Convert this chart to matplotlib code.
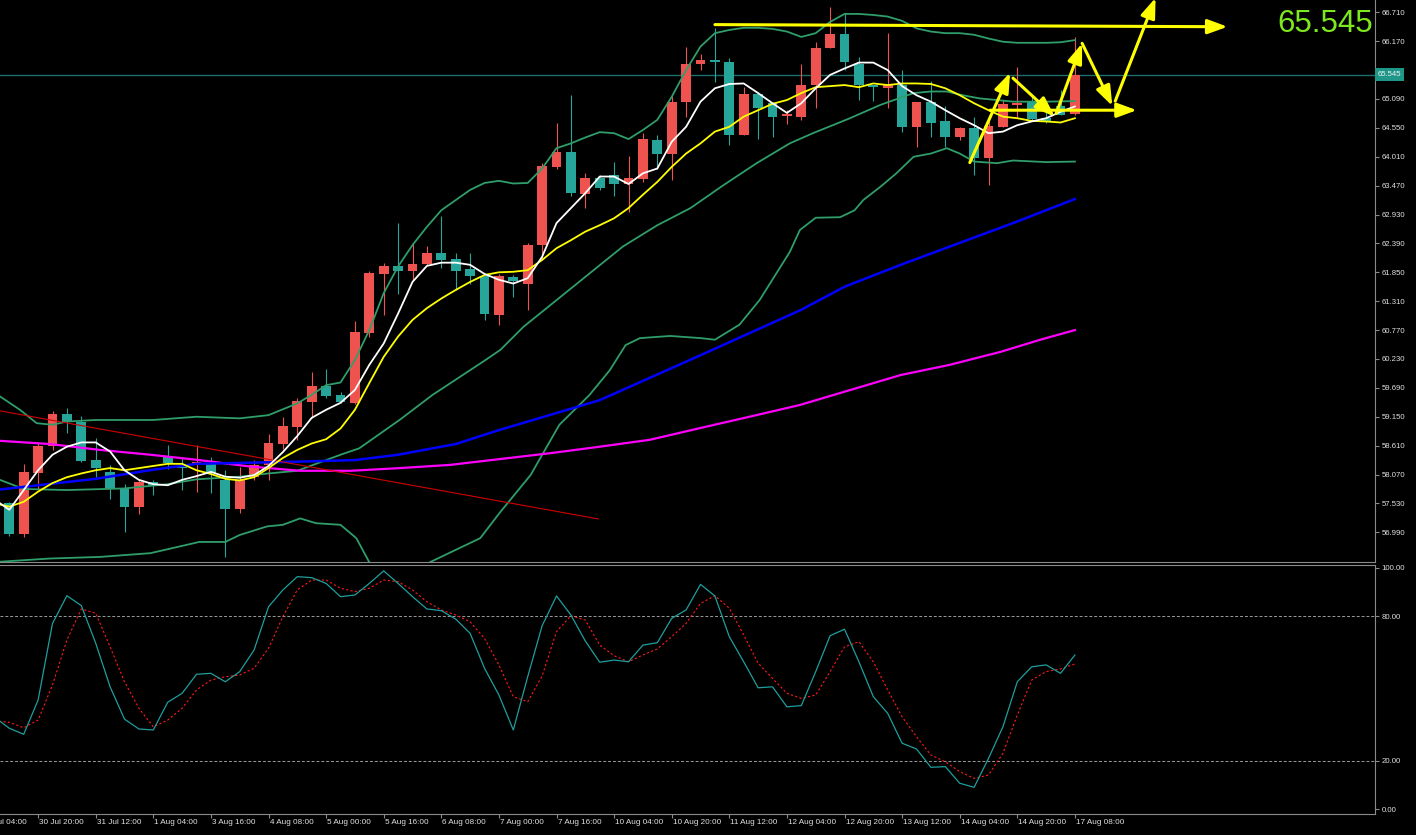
import matplotlib
matplotlib.use("Agg")
import matplotlib.pyplot as plt
import matplotlib.transforms as mtransforms
from matplotlib.patches import FancyArrowPatch

plt.rcParams["font.family"] = ["Liberation Sans", "DejaVu Sans"]

# ---------------- data (4h candles, index 0..74) ----------------
opens = [57.53, 56.95, 58.10, 58.61, 59.20, 59.06, 58.34, 58.12, 57.81, 57.46,
         57.93, 58.42, 58.22, 58.27, 58.29, 57.97, 57.43, 58.03, 58.25, 58.64,
         58.95, 59.43, 59.72, 59.56, 59.41, 60.72, 61.81, 61.97, 61.87, 62.00,
         62.22, 62.09, 61.91, 61.78, 61.05, 61.77, 61.63, 62.36, 63.82, 64.09,
         63.31, 63.61, 63.67, 63.50, 63.59, 64.32, 64.06, 65.03, 65.74, 65.82,
         65.78, 64.42, 65.18, 65.01, 64.78, 64.76, 65.35, 66.04, 66.30, 65.74,
         65.35, 65.30, 65.35, 64.57, 65.04, 64.67, 64.37, 64.54, 63.98, 64.57,
         64.98, 65.04, 64.73, 64.95, 64.80]
highs = [57.56, 58.27, 58.65, 59.26, 59.31, 59.16, 58.75, 58.25, 57.89, 57.97,
         57.96, 58.62, 58.39, 58.62, 58.39, 58.15, 58.22, 58.34, 58.82, 59.15,
         59.50, 59.99, 60.04, 59.62, 60.94, 61.88, 62.02, 62.78, 62.39, 62.34,
         62.90, 62.21, 62.22, 61.78, 61.82, 61.80, 62.39, 63.90, 64.64, 65.16,
         63.71, 63.66, 63.91, 64.02, 64.45, 64.42, 65.15, 66.07, 65.93, 66.42,
         65.86, 65.32, 65.18, 65.04, 64.88, 65.74, 66.16, 66.80, 66.69, 65.88,
         65.35, 66.32, 65.64, 65.04, 65.43, 64.95, 64.57, 64.75, 64.67, 65.07,
         65.69, 65.13, 64.85, 65.25, 66.24]
lows = [56.92, 56.91, 57.78, 58.53, 58.85, 58.31, 58.02, 57.61, 57.00, 57.33,
        57.69, 58.17, 57.79, 57.75, 57.73, 56.53, 57.36, 57.97, 57.96, 58.55,
        58.72, 59.12, 59.50, 59.41, 59.39, 60.65, 61.05, 61.44, 61.71, 61.99,
        61.93, 61.51, 61.63, 60.95, 60.87, 61.39, 61.15, 62.08, 63.79, 63.28,
        63.05, 63.38, 63.28, 62.98, 63.54, 63.79, 63.58, 64.76, 65.63, 65.41,
        64.23, 64.42, 64.34, 64.37, 64.62, 64.70, 64.92, 66.04, 65.63, 65.07,
        65.05, 64.93, 64.48, 64.19, 64.37, 64.20, 64.32, 63.67, 63.48, 64.57,
        64.75, 64.70, 64.64, 64.79, 64.79]
closes = [56.95, 58.11, 58.61, 59.20, 59.06, 58.33, 58.20, 57.81, 57.46, 57.93,
          57.87, 58.28, 58.19, 58.30, 58.09, 57.43, 57.97, 58.25, 58.65, 58.98,
          59.44, 59.72, 59.54, 59.43, 60.73, 61.83, 61.96, 61.87, 62.01, 62.22,
          62.08, 61.88, 61.78, 61.07, 61.78, 61.69, 62.36, 63.84, 64.10, 63.33,
          63.61, 63.42, 63.50, 63.61, 64.34, 64.06, 65.04, 65.74, 65.82, 65.78,
          64.42, 65.18, 64.93, 64.76, 64.80, 65.36, 66.05, 66.30, 65.78, 65.35,
          65.31, 65.35, 64.57, 65.04, 64.64, 64.37, 64.54, 63.98, 64.58, 64.99,
          65.02, 64.71, 64.68, 64.79, 65.545]
last_price = 65.545

# indicator series start one bar before the first visible candle (index -1..74)
ma_white = [57.60,
            57.41, 57.78, 58.15, 58.44, 58.59, 58.67, 58.67, 58.50, 58.15, 57.97,
            57.89, 57.87, 57.97, 58.04, 58.12, 58.03, 58.01, 58.06, 58.23, 58.49,
            58.79, 59.13, 59.28, 59.41, 59.65, 60.12, 60.52, 61.08, 61.67, 61.97,
            62.03, 62.03, 61.99, 61.82, 61.71, 61.64, 61.74, 62.14, 62.77, 63.05,
            63.33, 63.64, 63.64, 63.50, 63.70, 63.79, 64.29, 64.57, 65.04, 65.29,
            65.37, 65.38, 65.20, 65.01, 64.83, 65.01, 65.29, 65.54, 65.66, 65.77,
            65.77, 65.63, 65.33, 65.16, 65.04, 64.88, 64.73, 64.60, 64.45, 64.48,
            64.60, 64.67, 64.73, 64.85, 64.95]
ma_yellow = [57.53,
             57.47, 57.56, 57.75, 57.91, 58.02, 58.09, 58.15, 58.19, 58.15, 58.19,
             58.23, 58.27, 58.27, 58.15, 58.08, 57.99, 57.96, 58.02, 58.19, 58.38,
             58.53, 58.65, 58.73, 58.93, 59.28, 59.78, 60.27, 60.65, 60.96, 61.18,
             61.36, 61.52, 61.67, 61.80, 61.85, 61.86, 61.89, 62.08, 62.30, 62.45,
             62.61, 62.73, 62.86, 63.05, 63.30, 63.54, 63.82, 64.07, 64.26, 64.48,
             64.57, 64.76, 64.88, 65.00, 65.07, 65.20, 65.31, 65.33, 65.35, 65.31,
             65.38, 65.35, 65.38, 65.38, 65.37, 65.29, 65.16, 65.01, 64.88, 64.76,
             64.73, 64.68, 64.67, 64.65, 64.73]
stoch_k = [38.0,
           33.5, 31.0, 45.2, 77.0, 88.5, 84.4, 68.8, 50.7, 37.3, 33.2,
           32.8, 44.3, 48.0, 55.9, 56.3, 52.8, 57.0, 66.0, 83.9, 90.9,
           96.4, 96.0, 93.6, 88.1, 88.8, 93.6, 98.8, 93.6, 88.1, 83.0,
           82.3, 78.8, 72.9, 58.4, 47.3, 32.8, 54.9, 76.0, 88.4, 80.5,
           69.7, 60.9, 61.8, 61.1, 68.0, 69.0, 79.1, 82.6, 93.2, 88.4,
           71.5, 61.1, 50.3, 50.7, 42.4, 42.9, 57.0, 71.9, 74.6, 61.1,
           46.6, 39.7, 27.3, 24.9, 17.3, 17.6, 10.7, 9.0, 21.0, 34.1,
           52.8, 59.0, 59.8, 56.3, 63.9]
stoch_d = [36.5,
           36.0, 33.7, 36.9, 51.5, 70.1, 83.0, 81.2, 67.3, 52.8, 41.8,
           34.1, 36.9, 41.8, 49.4, 53.5, 54.9, 55.6, 58.4, 66.7, 79.8,
           90.9, 95.0, 95.0, 91.6, 90.2, 91.6, 95.0, 94.3, 90.9, 86.0,
           82.6, 80.5, 77.7, 70.8, 59.8, 46.6, 44.5, 55.2, 73.6, 80.2,
           78.4, 68.0, 63.6, 61.1, 63.9, 66.4, 71.5, 77.0, 85.3, 88.5,
           83.3, 72.2, 60.5, 54.2, 48.0, 45.9, 47.3, 57.0, 67.3, 69.4,
           61.1, 49.4, 38.3, 30.0, 22.4, 19.6, 15.5, 12.7, 14.1, 23.1,
           39.0, 53.5, 57.0, 58.1, 60.2]

# Bollinger bands (vertex lists: bar index, price)
bb_up_x = [-0.65, 0.74, 1.9, 3, 4, 6, 10, 13, 16, 18, 20, 21, 22, 23, 24, 25, 26, 27, 28, 29,
           30, 31, 32, 33, 34, 35, 36, 37, 38, 39, 40, 41, 42, 43, 44, 45, 46, 47, 48, 49,
           50, 51, 52, 53, 54, 55, 56, 57, 58, 59, 60, 61, 62, 63, 64, 65, 66, 67, 68, 69,
           70, 71, 72, 73, 74]
bb_up_y = [59.53, 59.28, 59.03, 59.00, 59.06, 59.09, 59.09, 59.15, 59.12, 59.18, 59.40, 59.56,
           59.74, 59.79, 60.21, 60.77, 61.46, 61.96, 62.36, 62.70, 63.01, 63.20, 63.39, 63.52,
           63.56, 63.51, 63.52, 63.79, 64.17, 64.26, 64.37, 64.47, 64.45, 64.34, 64.51, 64.70,
           65.13, 65.63, 66.07, 66.32, 66.38, 66.42, 66.42, 66.40, 66.35, 66.25, 66.32, 66.53,
           66.68, 66.68, 66.66, 66.63, 66.55, 66.41, 66.35, 66.32, 66.32, 66.29, 66.22, 66.16,
           66.14, 66.14, 66.14, 66.15, 66.19]
bb_mid_x = [-0.65, 1, 4, 8, 11, 13, 16, 18, 20, 23, 24.3, 27.1, 29.4, 32.9, 34.1, 35.7, 38,
            40.3, 42.6, 45, 47.3, 49.6, 51.9, 54.2, 55.8, 58.2, 60.5, 62.8, 64, 65.1, 66.2,
            67.4, 68.6, 69.7, 72, 74]
bb_mid_y = [57.97, 57.80, 57.78, 57.81, 57.89, 57.98, 58.03, 58.09, 58.14, 58.44, 58.56, 59.09,
            59.56, 60.18, 60.40, 60.83, 61.33, 61.83, 62.33, 62.73, 63.05, 63.48, 63.89, 64.26,
            64.45, 64.71, 64.98, 65.20, 65.23, 65.23, 65.16, 65.10, 65.07, 65.04, 65.04, 65.05]
bb_low_x = [-0.65, 0.5, 2.83, 6.3, 9.8, 13.2, 15, 16, 17.9, 19, 20.2, 21.3, 23, 24.1, 25, 26.5,
            28, 29.2, 32.7, 34.1, 36.2, 38.2, 40.3, 41.7, 42.8, 43.8, 45.9, 48, 49, 50.7, 52.1,
            54.2, 54.9, 56, 57.7, 58.7, 59.3, 60.5, 61.6, 62.8, 64, 65.1, 66, 67, 68.6, 69.7,
            72, 74]
bb_low_y = [56.44, 56.46, 56.50, 56.53, 56.60, 56.81, 56.81, 56.94, 57.10, 57.13, 57.25, 57.16,
            57.13, 56.88, 56.43, 56.15, 56.15, 56.43, 56.88, 57.37, 58.06, 59.00, 59.56, 60.02,
            60.49, 60.62, 60.66, 60.62, 60.59, 60.87, 61.33, 62.23, 62.64, 62.87, 62.88, 63.01,
            63.20, 63.45, 63.70, 64.01, 64.07, 64.17, 64.07, 63.92, 63.89, 63.94, 63.91, 63.92]

# slow moving averages
ma_blue_x = [-0.65, 6, 10, 13, 20, 24, 27, 31, 34, 41, 48, 55, 58, 62, 66, 70, 74]
ma_blue_y = [57.79, 57.99, 58.16, 58.27, 58.31, 58.34, 58.44, 58.64, 58.90, 59.46, 60.30,
             61.15, 61.58, 62.00, 62.40, 62.80, 63.22]
ma_mag_x = [-0.65, 2.83, 6.3, 9.8, 13.2, 16.7, 20.2, 23.7, 27.1, 30.6, 34.1, 37.6, 41.0, 44.5,
            48.0, 51.4, 54.9, 58.4, 61.9, 65.3, 68.8, 71.6, 74]
ma_mag_y = [58.70, 58.64, 58.53, 58.44, 58.34, 58.22, 58.14, 58.14, 58.19, 58.25, 58.36, 58.47,
            58.59, 58.72, 58.94, 59.15, 59.37, 59.65, 59.93, 60.12, 60.36, 60.59, 60.77]

# hand drawn objects
trend_x = [-0.65, 40.9]
trend_y = [59.26, 57.24]
level_lines = [((49.0, 66.48), (84.6, 66.44)),
               ((68.1, 64.88), (78.3, 64.88))]
zigzag = [((66.7, 63.90), (69.5, 65.58)),
          ((69.7, 65.48), (72.6, 64.76)),
          ((72.7, 64.82), (74.5, 66.13)),
          ((74.5, 66.13), (76.6, 64.96)),
          ((76.8, 65.05), (79.6, 66.98))]

price_ticks = [56.99 + 0.54 * k for k in range(19)]
stoch_ticks = [0, 20, 80, 100]
time_tick_idx = list(range(-2, 75, 4))
time_labels = ["30 Jul 04:00", "30 Jul 20:00", "31 Jul 12:00", "1 Aug 04:00", "3 Aug 16:00",
               "4 Aug 08:00", "5 Aug 00:00", "5 Aug 16:00", "6 Aug 08:00", "7 Aug 00:00",
               "7 Aug 16:00", "10 Aug 04:00", "10 Aug 20:00", "11 Aug 12:00", "12 Aug 04:00",
               "12 Aug 20:00", "13 Aug 12:00", "14 Aug 04:00", "14 Aug 20:00", "17 Aug 08:00"]

# ---------------- drawing ----------------
UP = "#ef5350"
DOWN = "#26a69a"
BB = "#2f9e6a"
GRID = "#8a8a8a"
TXT = "#e0e0e0"

idx = list(range(len(opens)))
ind_idx = list(range(-1, len(opens)))
xlim = (-0.646, 94.84)

fig = plt.figure(figsize=(14.16, 8.35), dpi=100, facecolor="black")
ax = fig.add_axes([0.0, 0.32695, 0.97105, 0.67305])
ax2 = fig.add_axes([0.0, 0.02515, 0.97105, 0.2982])
for a in (ax, ax2):
    a.set_facecolor("black")
    a.set_xlim(*xlim)
    a.spines["left"].set_visible(False)
    for s in ("right", "bottom", "top"):
        a.spines[s].set_color(GRID)
        a.spines[s].set_linewidth(0.8)
ax.spines["top"].set_visible(False)

# candles
colors = [UP if c >= o else DOWN for o, c in zip(opens, closes)]
ax.vlines(idx, lows, highs, colors=colors, linewidth=0.8, zorder=2)
bottoms = [min(o, c) for o, c in zip(opens, closes)]
heights = [max(abs(c - o), 0.02) for o, c in zip(opens, closes)]
ax.bar(idx, heights, bottom=bottoms, width=0.68, color=colors, linewidth=0, zorder=2)

# indicators
ax.plot(bb_up_x, bb_up_y, color=BB, lw=1.3, zorder=3)
ax.plot(bb_mid_x, bb_mid_y, color=BB, lw=1.3, zorder=3)
ax.plot(bb_low_x, bb_low_y, color=BB, lw=1.3, zorder=3)
ax.plot(ma_mag_x, ma_mag_y, color="#ff00ff", lw=1.6, zorder=3)
ax.plot(ma_blue_x, ma_blue_y, color="#0000ff", lw=1.8, zorder=3)
ax.plot(trend_x, trend_y, color="#d00000", lw=0.8, zorder=3)
ax.plot(ind_idx, ma_yellow, color="#ffff00", lw=1.3, zorder=4)
ax.plot(ind_idx, ma_white, color="#ffffff", lw=1.3, zorder=4)
ax.axhline(last_price, color="#1d6f6c", lw=1.0, zorder=1)

# yellow drawings
for (x0, y0), (x1, y1) in level_lines + zigzag:
    ax.add_patch(FancyArrowPatch((x0, y0), (x1, y1),
                                 arrowstyle="-|>,head_length=0.6,head_width=0.22",
                                 mutation_scale=20, color="#ffff00", lw=2.2,
                                 shrinkA=0, shrinkB=0, zorder=6, clip_on=False))

ax.set_ylim(56.435, 66.94)
ax.yaxis.tick_right()
ax.set_yticks(price_ticks)
ax.set_yticklabels([f"{t:.3f}" for t in price_ticks])
ax.tick_params(axis="y", colors=GRID, labelcolor=TXT, labelsize=5.6, length=3,
               width=0.8, pad=1.5)
ax.tick_params(axis="x", bottom=False, labelbottom=False)

tr = mtransforms.blended_transform_factory(ax.transAxes, ax.transData)
ax.text(1.0022, last_price, f"{last_price:.3f}", transform=tr, ha="left", va="center",
        fontsize=5.6, color="#f0f0f0", zorder=10, clip_on=False,
        bbox=dict(boxstyle="square,pad=0.35", facecolor="#1e9688", edgecolor="none"))
fig.text(1373 / 1416, 1 - 31.7 / 835, f"{last_price:.3f}", ha="right", va="baseline",
         fontsize=22.5, color="#7ee81e")

# stochastic
ax2.set_ylim(-2.07, 101.24)
ax2.axhline(80, color="#9a9a9a", lw=0.7, ls=(0, (3, 2)))
ax2.axhline(20, color="#9a9a9a", lw=0.7, ls=(0, (3, 2)))
ax2.plot(ind_idx, stoch_d, color="#ff1a1a", lw=0.8, ls=(0, (2, 2)))
ax2.plot(ind_idx, stoch_k, color="#1f9e9e", lw=0.9)
ax2.yaxis.tick_right()
ax2.set_yticks(stoch_ticks)
ax2.set_yticklabels([f"{t:.2f}" for t in stoch_ticks])
ax2.tick_params(axis="y", colors=GRID, labelcolor=TXT, labelsize=5.6, length=3,
                width=0.8, pad=1.5)
ax2.set_xticks([t for t in time_tick_idx if t >= 0])
ax2.set_xticklabels([])
ax2.tick_params(axis="x", colors=GRID, length=3, width=0.8, direction="out")
trx = mtransforms.blended_transform_factory(ax2.transData, ax2.transAxes)
for t, lab in zip(time_tick_idx, time_labels):
    ax2.text(t + 0.08, -0.036, lab, transform=trx, ha="left", va="center",
             fontsize=5.9, color=TXT, clip_on=False)

fig.savefig("out.png", dpi=100, facecolor="black")
